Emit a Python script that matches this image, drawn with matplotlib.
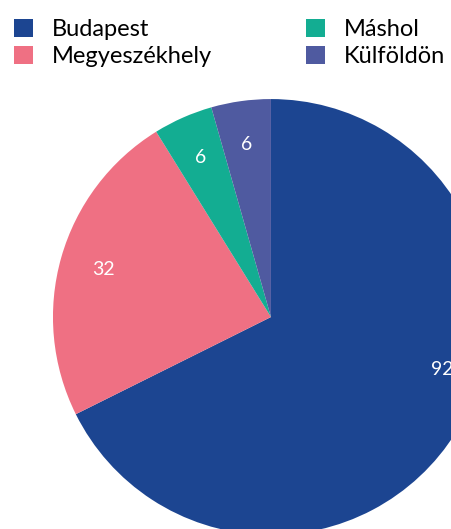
import matplotlib.pyplot as plt
import numpy as np

plt.rcParams['font.family'] = ['Lato', 'DejaVu Sans']

categories = ['Budapest', 'Megyeszékhely', 'Máshol', 'Külföldön']
values = [92, 32, 6, 6]
colors = ['#1c4591', '#ef7083', '#13ad92', '#4f5aa0']

fig = plt.figure(figsize=(4.51, 5.29), dpi=100)
ax = fig.add_axes([0, 0, 1, 1])

wedges, _ = ax.pie(values, colors=colors, startangle=90, counterclock=False,
                   radius=1, center=(0, 0), wedgeprops=dict(linewidth=0))

# szöveges címkék a szeletek közepén (a nagy szeletnél a látható részen)
for w, v in zip(wedges, values):
    ang = (w.theta1 + w.theta2) / 2
    r = 0.8
    if v == max(values):
        ang = -17
        r = 0.82
    x = r * np.cos(np.radians(ang))
    y = r * np.sin(np.radians(ang))
    ax.text(x, y, str(v), ha='center', va='center', color='white', fontsize=14)

ax.set_xlim(-1.243, 0.826)
ax.set_ylim(-0.972, 1.454)
ax.axis('off')

leg = ax.legend(wedges, categories, ncol=2, loc='upper left',
                bbox_to_anchor=(0.01, 0.983), frameon=False, fontsize=17,
                handlelength=0.8, handleheight=0.8, handletextpad=0.8,
                columnspacing=4.0, labelspacing=0.25, borderaxespad=0)

plt.savefig('out.png', dpi=100)
